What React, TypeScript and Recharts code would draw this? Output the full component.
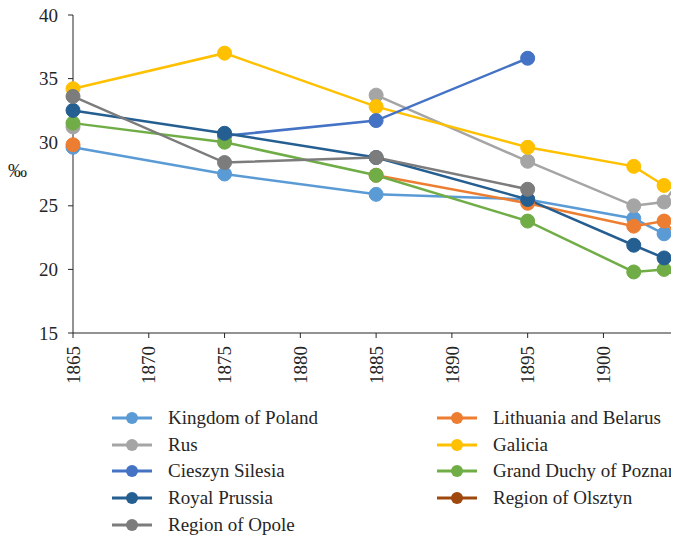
import React from "react"
import { LineChart, Line, XAxis, YAxis } from "recharts"

const years = [1865, 1875, 1885, 1895, 1902, 1904, 1910]

const kingdomOfPoland = [29.6, 27.5, 25.9, 25.5, 24.0, 22.8, 20.8]
const lithuaniaBelarus = [29.8, null, 27.4, 25.2, 23.4, 23.8, 15.7]
const rus = [31.2, null, 33.7, 28.5, 25.0, 25.3, 34.9]
const galicia = [34.2, 37.0, 32.8, 29.6, 28.1, 26.6, 24.6]
const cieszynSilesia = [null, 30.5, 31.7, 36.6, null, null, null]
const poznan = [31.5, 30.0, 27.4, 23.8, 19.8, 20.0, 16.5]
const royalPrussia = [32.5, 30.7, 28.8, 25.5, 21.9, 20.9, 18.9]
const olsztyn = [null, null, null, null, null, null, null]
const opole = [33.6, 28.4, 28.8, 26.3, null, null, null]

const xTicks = [1865, 1870, 1875, 1880, 1885, 1890, 1895, 1900, 1905, 1910]
const yTicks = [15, 20, 25, 30, 35, 40]

const series = [
  { key: "kp", name: "Kingdom of Poland", color: "#5B9BD5", values: kingdomOfPoland },
  { key: "lb", name: "Lithuania and Belarus", color: "#ED7D31", values: lithuaniaBelarus },
  { key: "rus", name: "Rus", color: "#A5A5A5", values: rus },
  { key: "gal", name: "Galicia", color: "#FFC000", values: galicia },
  { key: "cs", name: "Cieszyn Silesia", color: "#4472C4", values: cieszynSilesia },
  { key: "gdp", name: "Grand Duchy of Poznań", color: "#70AD47", values: poznan },
  { key: "rp", name: "Royal Prussia", color: "#255E91", values: royalPrussia },
  { key: "ol", name: "Region of Olsztyn", color: "#9E480E", values: olsztyn },
  { key: "op", name: "Region of Opole", color: "#7C7C7C", values: opole },
]

const data = years.map((year, i) => {
  const row: Record<string, number | null> = { year }
  series.forEach((s) => {
    row[s.key] = s.values[i]
  })
  return row
})

const FONT = "Liberation Serif, serif"
const INK = "#262626"

function YearTick(props: any) {
  const { x, y, payload } = props
  return (
    <text
      x={x}
      y={y + 6}
      transform={`rotate(-90, ${x}, ${y + 6})`}
      textAnchor="end"
      dy="0.35em"
      fontFamily={FONT}
      fontSize={19}
      style={{ fontFamily: FONT }}
      fill={INK}
    >
      {payload.value}
    </text>
  )
}

function ValueTick(props: any) {
  const { x, y, payload } = props
  return (
    <text
      x={x}
      y={y}
      textAnchor="end"
      dy="0.35em"
      fontFamily={FONT}
      fontSize={19}
      style={{ fontFamily: FONT }}
      fill={INK}
    >
      {payload.value}
    </text>
  )
}

function LegendBox() {
  return (
    <div
      style={{
        position: "absolute",
        left: 102,
        top: 397,
        display: "grid",
        gridTemplateColumns: "325px 260px",
        fontFamily: FONT,
        fontSize: 19,
        color: INK,
      }}
    >
      {series.map((s) => (
        <div key={s.key} style={{ display: "flex", alignItems: "center", height: 26.6, whiteSpace: "nowrap" }}>
          <svg width={58} height={16} style={{ flexShrink: 0 }}>
            <line x1={2} y1={8} x2={42} y2={8} stroke={s.color} strokeWidth={3} />
            <circle cx={22} cy={8} r={6} fill={s.color} />
          </svg>
          <span>{s.name}</span>
        </div>
      ))}
    </div>
  )
}

export default function App() {
  return (
    <div
      style={{
        width: 700,
        height: 545,
        overflow: "hidden",
        position: "relative",
        fontFamily: FONT,
      }}
    >
      <LineChart
        width={760}
        height={545}
        data={data}
        margin={{ top: 7, right: 13, bottom: 170, left: 0 }}
      >
        <XAxis
          dataKey="year"
          type="number"
          domain={[1865, 1910]}
          ticks={xTicks}
          interval={0}
          stroke={INK}
          tickSize={5}
          height={50}
          tick={<YearTick />}
        />
        <YAxis
          type="number"
          domain={[15, 40]}
          ticks={yTicks}
          interval={0}
          width={65}
          stroke={INK}
          tickSize={5}
          tickMargin={10}
          tick={<ValueTick />}
          label={{ value: "‰", position: "insideLeft", offset: 0, dy: -4, fontSize: 19, fill: INK, fontFamily: FONT }}
        />
        {series.map((s) => (
          <Line
            key={s.key}
            dataKey={s.key}
            name={s.name}
            stroke={s.color}
            strokeWidth={2.5}
            dot={{ r: 7, fill: s.color, stroke: s.color, strokeWidth: 1 }}
            activeDot={false}
            connectNulls={false}
            isAnimationActive={false}
          />
        ))}
      </LineChart>
      <LegendBox />
    </div>
  )
}
